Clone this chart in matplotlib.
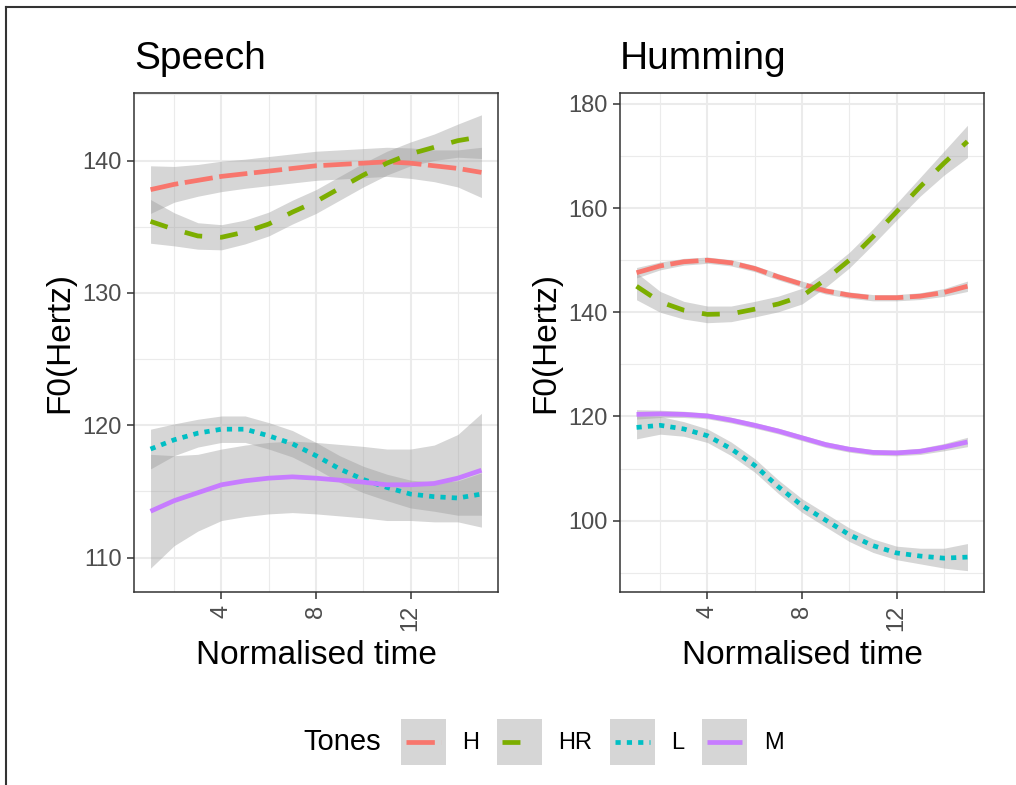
import matplotlib
matplotlib.use("Agg")
import matplotlib.pyplot as plt
from matplotlib.lines import Line2D
from matplotlib.patches import Rectangle
from matplotlib.legend_handler import HandlerTuple, HandlerLine2D

plt.rcParams['font.family'] = ['Liberation Sans', 'DejaVu Sans']

# data
time = [1, 2, 3, 4, 5, 6, 7, 8, 9, 10, 11, 12, 13, 14, 15]
tones = ["H", "HR", "L", "M"]

speech_H = [137.8, 138.2, 138.5, 138.8, 139.0, 139.2, 139.4, 139.6, 139.7, 139.8, 139.9, 139.8, 139.6, 139.4, 139.1]
speech_H_se = [1.8, 1.35, 1.2, 1.15, 1.1, 1.1, 1.1, 1.1, 1.1, 1.1, 1.1, 1.15, 1.2, 1.4, 1.9]
speech_HR = [135.4, 134.8, 134.3, 134.2, 134.6, 135.2, 136.1, 136.9, 137.9, 138.9, 139.8, 140.5, 141.0, 141.5, 141.8]
speech_HR_se = [1.65, 1.25, 1.0, 0.95, 0.9, 0.9, 0.9, 0.9, 0.9, 0.9, 0.9, 0.9, 1.0, 1.25, 1.65]
speech_L = [118.2, 118.9, 119.4, 119.7, 119.7, 119.2, 118.6, 117.7, 116.7, 115.9, 115.3, 114.8, 114.6, 114.5, 114.8]
speech_L_se = [1.5, 1.2, 1.05, 1.0, 1.0, 1.0, 1.0, 1.0, 1.0, 1.0, 1.0, 1.05, 1.1, 1.3, 1.6]
speech_M = [113.5, 114.3, 114.9, 115.5, 115.8, 116.0, 116.1, 116.0, 115.85, 115.7, 115.5, 115.5, 115.6, 116.0, 116.6]
speech_M_se = [4.3, 3.4, 2.9, 2.7, 2.7, 2.7, 2.7, 2.7, 2.7, 2.7, 2.7, 2.7, 2.9, 3.3, 4.3]

hum_H = [147.6, 148.9, 149.7, 150.0, 149.5, 148.4, 146.8, 145.4, 144.1, 143.3, 142.8, 142.8, 143.1, 143.8, 145.0]
hum_H_se = [1.0, 0.75, 0.65, 0.6, 0.6, 0.6, 0.6, 0.6, 0.6, 0.6, 0.6, 0.6, 0.65, 0.75, 1.0]
hum_HR = [145.0, 142.0, 140.4, 139.6, 139.7, 140.6, 141.6, 143.1, 146.3, 150.0, 154.5, 159.3, 164.1, 168.6, 172.8]
hum_HR_se = [2.6, 2.0, 1.7, 1.6, 1.5, 1.5, 1.5, 1.5, 1.5, 1.5, 1.5, 1.6, 1.8, 2.3, 3.1]
hum_L = [117.9, 118.3, 117.6, 116.3, 113.8, 110.6, 106.5, 102.9, 100.1, 97.3, 95.2, 93.8, 93.2, 92.8, 93.0]
hum_L_se = [2.2, 1.7, 1.4, 1.3, 1.3, 1.3, 1.3, 1.3, 1.3, 1.3, 1.3, 1.3, 1.5, 1.9, 2.6]
hum_M = [120.4, 120.5, 120.4, 120.1, 119.3, 118.3, 117.2, 115.9, 114.6, 113.7, 113.1, 113.0, 113.3, 114.1, 115.1]
hum_M_se = [0.9, 0.7, 0.6, 0.55, 0.55, 0.55, 0.55, 0.55, 0.55, 0.55, 0.55, 0.55, 0.6, 0.7, 0.9]

colors = {"H": "#F8766D", "HR": "#7CAE00", "L": "#00BFC4", "M": "#C77CFF"}
dashes = {"H": (6.0, 1.4), "HR": (3.8, 3.8), "L": (1.1, 1.3), "M": None}
LW = 3.4
W, H = 1016, 785


class KeyLine(HandlerLine2D):
    # centre the line in the grey key box, with a small inset at both ends
    def create_artists(self, legend, orig_handle, xdescent, ydescent, width, height, fontsize, trans):
        artists = super().create_artists(legend, orig_handle, xdescent, ydescent,
                                         width, height, fontsize, trans)
        ymid = height / 2 - ydescent
        artists[0].set_data([-xdescent + 3.5, -xdescent + width - 3.5], [ymid, ymid])
        for a in artists[1:]:
            a.set_ydata([ymid] * len(a.get_xdata()))
        return artists


def px_axes(fig, x0, y0, x1, y1):
    return fig.add_axes([x0 / W, 1 - y1 / H, (x1 - x0) / W, (y1 - y0) / H])


def draw_panel(ax, series, title, ylim, yticks, yminor):
    for tone in tones:
        y, se = series[tone]
        lo = [a - b for a, b in zip(y, se)]
        hi = [a + b for a, b in zip(y, se)]
        ax.fill_between(time, lo, hi, color="#999999", alpha=0.4, lw=0)
        line, = ax.plot(time, y, color=colors[tone], lw=LW, solid_capstyle="butt",
                        dash_capstyle="butt")
        if dashes[tone]:
            line.set_dashes(dashes[tone])
    ax.set_xlim(0.3, 15.7)
    ax.set_ylim(*ylim)
    ax.set_xticks([4, 8, 12])
    ax.set_xticks([2, 6, 10, 14], minor=True)
    ax.set_yticks(yticks)
    ax.set_yticks(yminor, minor=True)
    ax.grid(which="major", color="#EBEBEB", lw=1.5)
    ax.grid(which="minor", color="#EBEBEB", lw=0.8)
    ax.set_axisbelow(True)
    for s in ax.spines.values():
        s.set_color("#333333")
        s.set_linewidth(1.1)
    ax.tick_params(which="major", length=5, width=1.1, color="#333333",
                   labelcolor="#4D4D4D", labelsize=17, pad=4)
    ax.tick_params(which="minor", length=0)
    for lab in ax.get_xticklabels():
        lab.set_rotation(90)
        lab.set_va("top")
        lab.set_ha("center")
    ax.set_xlabel("Normalised time", fontsize=24, labelpad=7)
    ax.set_ylabel("F0(Hertz)", fontsize=24, labelpad=5)
    ax.set_title(title, loc="left", fontsize=28, pad=17)


fig = plt.figure(figsize=(W / 100, H / 100), dpi=100)

ax1 = px_axes(fig, 134, 93, 498, 592)
draw_panel(ax1, {"H": (speech_H, speech_H_se), "HR": (speech_HR, speech_HR_se),
                 "L": (speech_L, speech_L_se), "M": (speech_M, speech_M_se)},
           "Speech", (107.4, 145.1), [110, 120, 130, 140], [115, 125, 135, 145])

ax2 = px_axes(fig, 620, 93, 984, 592)
draw_panel(ax2, {"H": (hum_H, hum_H_se), "HR": (hum_HR, hum_HR_se),
                 "L": (hum_L, hum_L_se), "M": (hum_M, hum_M_se)},
           "Humming", (86.3, 182.1), [100, 120, 140, 160, 180], [90, 110, 130, 150, 170])

# legend: grey key box with the line drawn over it
handles = []
for tone in tones:
    box = Rectangle((0, 0), 1, 1, facecolor="#D6D6D6", edgecolor="none")
    ln = Line2D([], [], color=colors[tone], lw=LW, solid_capstyle="butt", dash_capstyle="butt")
    if dashes[tone]:
        ln.set_dashes(dashes[tone])
    handles.append((box, ln))
fig.legend(handles, tones,
           handler_map={tuple: HandlerTuple(ndivide=1, pad=0), Line2D: KeyLine()},
           loc="center left", bbox_to_anchor=(401 / W, 1 - 742 / H), ncol=4,
           frameon=False, fontsize=17, handlelength=1.9, handleheight=2.6,
           handletextpad=0.7, columnspacing=0.75, borderpad=0, borderaxespad=0)
fig.text(303 / W, 1 - 742 / H, "Tones", fontsize=21, va="center", ha="left")

# outer frame (left and top edge)
fig.add_artist(Line2D([6 / W, 6 / W], [0, 1 - 7 / H], transform=fig.transFigure,
                      color="#333333", lw=1.5))
fig.add_artist(Line2D([6 / W, 1], [1 - 7 / H, 1 - 7 / H], transform=fig.transFigure,
                      color="#333333", lw=1.5))

fig.savefig("out.png", dpi=100)
